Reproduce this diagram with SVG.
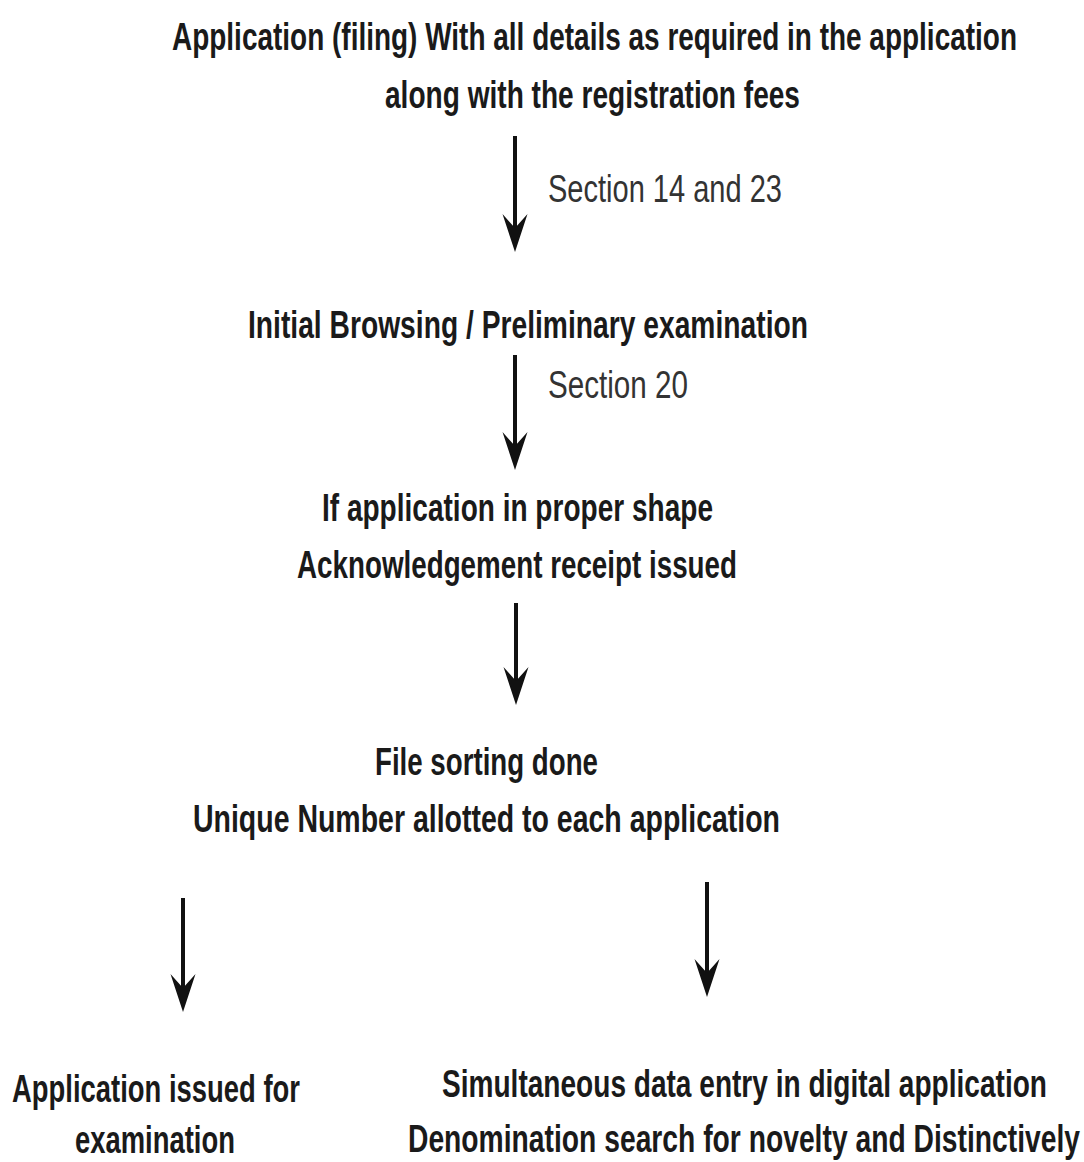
<svg xmlns="http://www.w3.org/2000/svg" width="1084" height="1162" viewBox="0 0 1084 1162">
  <style>
    .t { font-family: "Liberation Sans", Arial, sans-serif; font-size: 38px; font-weight: bold; fill: #1a1a1a; }
    .s { font-family: "Liberation Sans", Arial, sans-serif; font-size: 38px; font-weight: normal; fill: #333333; }
    .c { stroke: #111111; stroke-width: 4; fill: none; }
  </style>
  <defs>
    <marker id="ah" markerUnits="userSpaceOnUse" viewBox="-38 -13 38 26" refX="-10" refY="0" markerWidth="38" markerHeight="26" orient="auto">
      <path d="M0,0 L-38,-12.5 L-24,0 L-38,12.5 Z" fill="#111111"/>
    </marker>
  </defs>
  <rect width="1084" height="1162" fill="#ffffff"/>

  <g id="n1">
    <text class="t" transform="scale(0.62,1)" x="277.42" y="50" textLength="1362.9" lengthAdjust="spacingAndGlyphs">Application (filing) With all details as required in the application</text>
    <text class="t" transform="scale(0.62,1)" x="620.97" y="108" textLength="669.35" lengthAdjust="spacingAndGlyphs">along with the registration fees</text>
  </g>
  <g id="n2">
    <text class="t" transform="scale(0.62,1)" x="400" y="338" textLength="903.23" lengthAdjust="spacingAndGlyphs">Initial Browsing / Preliminary examination</text>
  </g>
  <g id="n3">
    <text class="t" transform="scale(0.62,1)" x="519.35" y="521" textLength="630.65" lengthAdjust="spacingAndGlyphs">If application in proper shape</text>
    <text class="t" transform="scale(0.62,1)" x="479.03" y="578" textLength="709.68" lengthAdjust="spacingAndGlyphs">Acknowledgement receipt issued</text>
  </g>
  <g id="n4">
    <text class="t" transform="scale(0.62,1)" x="604.84" y="775" textLength="359.68" lengthAdjust="spacingAndGlyphs">File sorting done</text>
    <text class="t" transform="scale(0.62,1)" x="311.29" y="832" textLength="946.77" lengthAdjust="spacingAndGlyphs">Unique Number allotted to each application</text>
  </g>
  <g id="n5">
    <text class="t" transform="scale(0.62,1)" x="19.35" y="1102" textLength="464.52" lengthAdjust="spacingAndGlyphs">Application issued for</text>
    <text class="t" transform="scale(0.62,1)" x="120.97" y="1153" textLength="258.06" lengthAdjust="spacingAndGlyphs">examination</text>
  </g>
  <g id="n6">
    <text class="t" transform="scale(0.62,1)" x="712.9" y="1097" textLength="975.81" lengthAdjust="spacingAndGlyphs">Simultaneous data entry in digital application</text>
    <text class="t" transform="scale(0.62,1)" x="658.06" y="1152" textLength="1083.87" lengthAdjust="spacingAndGlyphs">Denomination search for novelty and Distinctively</text>
  </g>

  <g id="connectors">
    <line class="c" x1="515" y1="136" x2="515" y2="242" marker-end="url(#ah)"/>
    <text class="s" transform="scale(0.62,1)" x="883.87" y="202" textLength="377.42" lengthAdjust="spacingAndGlyphs">Section 14 and 23</text>
    <line class="c" x1="515" y1="355" x2="515" y2="460" marker-end="url(#ah)"/>
    <text class="s" transform="scale(0.62,1)" x="883.87" y="398" textLength="225.81" lengthAdjust="spacingAndGlyphs">Section 20</text>
    <line class="c" x1="516" y1="603" x2="516" y2="695" marker-end="url(#ah)"/>
    <line class="c" x1="183" y1="898" x2="183" y2="1002" marker-end="url(#ah)"/>
    <line class="c" x1="707" y1="882" x2="707" y2="987" marker-end="url(#ah)"/>
  </g>
</svg>
